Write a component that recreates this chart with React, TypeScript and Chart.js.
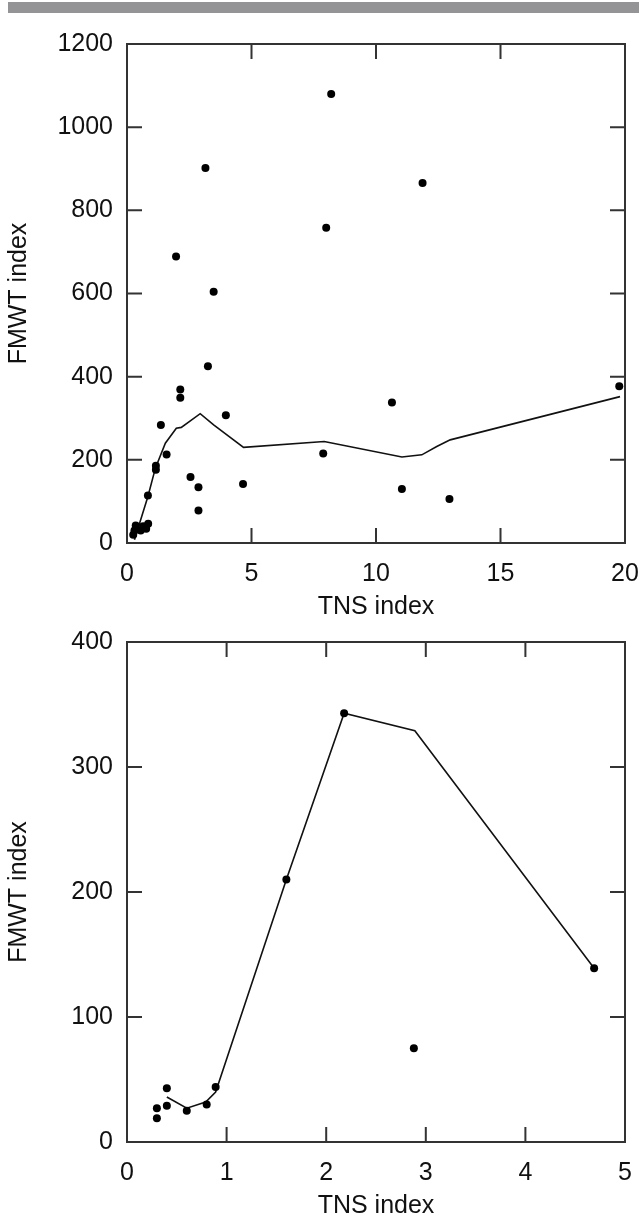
import React, { useEffect, useRef } from "react";
import { Chart, registerables } from "chart.js";

Chart.register(...registerables);

// ---- Top panel data (TNS index vs FMWT index, full range) ----
const topPointsX = [0.25, 0.3, 0.35, 0.55, 0.65, 0.77, 0.85, 0.84, 1.16, 1.16, 1.36, 1.59, 1.97, 2.14, 2.14, 2.55, 2.87, 2.87, 3.15, 3.25, 3.48, 3.97, 4.66, 7.88, 8.0, 8.2, 10.64, 11.04, 11.87, 12.95, 19.77];
const topPointsY = [20, 30, 42, 30, 40, 34, 46, 114, 186, 176, 284, 213, 689, 369, 349, 159, 134, 78, 902, 425, 604, 307, 142, 215, 758, 1080, 338, 130, 866, 106, 377];
const topLineX = [0.3, 0.84, 1.14, 1.54, 1.98, 2.18, 2.94, 3.48, 4.68, 7.92, 11.04, 11.84, 12.44, 12.98, 19.8];
const topLineY = [8, 112, 180, 240, 276, 278, 311, 284, 230, 244, 207, 212, 232, 248, 352];

// ---- Bottom panel data (zoomed subset) ----
const botPointsX = [0.3, 0.3, 0.4, 0.4, 0.6, 0.8, 0.89, 1.6, 2.18, 2.88, 4.69];
const botPointsY = [27, 19, 43, 29, 25, 30, 44, 210, 343, 75, 139];
const botLineX = [0.4, 0.6, 0.79, 0.89, 1.6, 2.18, 2.89, 4.69];
const botLineY = [36, 27, 32, 40, 210, 343, 329, 139];

// ---- Axis settings ----
const xTitle = "TNS index";
const yTitle = "FMWT index";
const topXRange = [0, 20, 5];
const topYRange = [0, 1200, 200];
const botXRange = [0, 5, 1];
const botYRange = [0, 400, 100];

const FONT = "'Liberation Sans', Arial, Helvetica, sans-serif";
const TEXT = "#111";

const boxTicks = {
  id: "boxTicks",
  afterDraw(chart: any) {
    const { ctx, chartArea } = chart;
    const { left, right, top, bottom } = chartArea;
    const xs = chart.scales.x;
    const ys = chart.scales.y;
    const L = 15;
    ctx.save();
    ctx.strokeStyle = "#333";
    ctx.lineWidth = 2;
    ctx.beginPath();
    xs.ticks.forEach((t: any) => {
      const px = xs.getPixelForValue(t.value);
      ctx.moveTo(px, bottom);
      ctx.lineTo(px, bottom - L);
      ctx.moveTo(px, top);
      ctx.lineTo(px, top + L);
    });
    ys.ticks.forEach((t: any) => {
      const py = ys.getPixelForValue(t.value);
      ctx.moveTo(left, py);
      ctx.lineTo(left + L, py);
      ctx.moveTo(right, py);
      ctx.lineTo(right - L, py);
    });
    ctx.stroke();
    ctx.strokeRect(left, top, right - left, bottom - top);
    ctx.restore();
  },
};

function toXY(xs: number[], ys: number[]) {
  return xs.map((x, i) => ({ x, y: ys[i] }));
}

function makeConfig(
  px: number[], py: number[], lx: number[], ly: number[],
  xr: number[], yr: number[], padTop: number
): any {
  return {
    type: "scatter",
    data: {
      datasets: [
        {
          data: toXY(lx, ly),
          showLine: true,
          borderColor: "#111",
          borderWidth: 1.6,
          pointRadius: 0,
          tension: 0,
          order: 2,
        },
        {
          data: toXY(px, py),
          showLine: false,
          backgroundColor: "#000",
          borderWidth: 0,
          pointRadius: 4,
          order: 1,
        },
      ],
    },
    options: {
      animation: false,
      responsive: false,
      layout: { padding: { top: padTop, right: 14, left: 0, bottom: 0 } },
      plugins: { legend: { display: false }, tooltip: { enabled: false } },
      scales: {
        x: {
          type: "linear",
          min: xr[0],
          max: xr[1],
          ticks: {
            stepSize: xr[2],
            padding: 19,
            color: TEXT,
            font: { family: FONT, size: 25, lineHeight: 1 },
            maxRotation: 0,
            callback: (v: any) => String(v),
          },
          grid: { display: false, drawTicks: false },
          border: { display: false },
          title: {
            display: true,
            text: xTitle,
            color: TEXT,
            font: { family: FONT, size: 25, lineHeight: 1 },
            padding: { top: 0, bottom: 5 },
          },
          afterFit(scale: any) {
            scale.height = 82;
            scale.paddingLeft = 0;
            scale.paddingRight = 0;
          },
        },
        y: {
          type: "linear",
          min: yr[0],
          max: yr[1],
          ticks: {
            stepSize: yr[2],
            padding: 14,
            color: TEXT,
            font: { family: FONT, size: 25, lineHeight: 1 },
            callback: (v: any) => String(v),
          },
          grid: { display: false, drawTicks: false },
          border: { display: false },
          title: {
            display: true,
            text: yTitle,
            color: TEXT,
            font: { family: FONT, size: 25, lineHeight: 1 },
            padding: { top: 7, bottom: 0 },
          },
          afterFit(scale: any) {
            scale.width = 127;
            scale.paddingTop = 0;
            scale.paddingBottom = 0;
          },
        },
      },
    },
    plugins: [boxTicks],
  };
}

function Panel(props: { cfg: any; top: number; height: number }) {
  const ref = useRef<HTMLCanvasElement | null>(null);
  useEffect(() => {
    if (!ref.current) return;
    const chart = new Chart(ref.current, props.cfg);
    return () => chart.destroy();
  }, []);
  return (
    <canvas
      ref={ref}
      width={639}
      height={props.height}
      style={{ position: "absolute", left: 0, top: props.top, width: 639, height: props.height }}
    />
  );
}

export default function App() {
  const topCfg = makeConfig(topPointsX, topPointsY, topLineX, topLineY, topXRange, topYRange, 44);
  const botCfg = makeConfig(botPointsX, botPointsY, botLineX, botLineY, botXRange, botYRange, 17);
  return (
    <div style={{ position: "absolute", left: 0, top: 0, width: 639, height: 1224, background: "#fff" }}>
      <div style={{ position: "absolute", left: 8, top: 2, width: 631, height: 11, background: "#949497" }} />
      <Panel cfg={topCfg} top={0} height={625} />
      <Panel cfg={botCfg} top={625} height={599} />
    </div>
  );
}
